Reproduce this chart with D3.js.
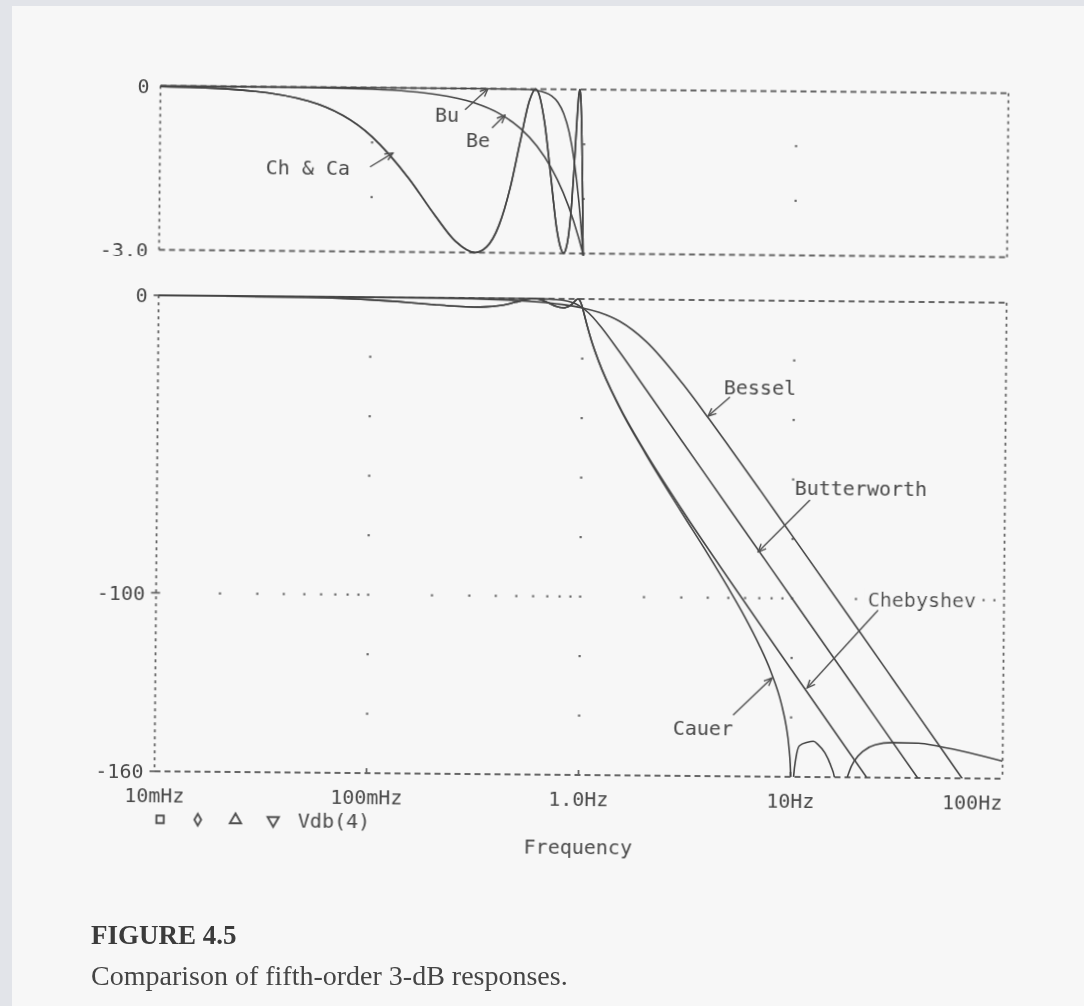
<!DOCTYPE html>
<html>
  <head>
    <meta charset="utf-8">
    <title>Comparison of fifth-order 3-dB responses</title>
    <script src="https://d3js.org/d3.v7.min.js"></script>
  </head>
  <body>
<style>
  body { margin: 0; background: #e2e4e9; }
  svg text { font-family: "DejaVu Sans Mono", monospace; fill: #4a4a4a; }
  .frame { fill: none; stroke: #666; stroke-width: 1.8; }
  .curve { fill: none; stroke: #454545; stroke-width: 1.6; }
  .note { fill: none; stroke: #505050; stroke-width: 1.4; }
  .dot { fill: #6a6a6a; }
</style>
<script type="text/javascript">

  // size of the page
  var w = 1084,
      h = 1006;

  // x ticks (Hz) and their labels
  var xTicks = [0.01, 0.1, 1, 10, 100];
  var xTickLabels = ["10mHz", "100mHz", "1.0Hz", "10Hz", "100Hz"];

  // y ticks of both panels (dB)
  var topTicks = [0, -3.0];
  var topTickLabels = ["0", "-3.0"];
  var botTicks = [0, -100, -160];
  var botTickLabels = ["0", "-100", "-160"];

  // grid dots
  var gridDecades = [0.1, 1, 10];
  var topGridDb = [-1, -2];
  var botGridDb = [-20, -40, -60, -80, -100, -120, -140];

  // curves: frequency (Hz) and gain (dB)
  var butterFreq = [0.01, 0.1, 0.3, 0.5, 0.6, 0.7, 0.75, 0.8, 0.85, 0.9, 0.95, 1.0, 1.05, 1.1, 1.2, 1.5, 2, 3, 5, 10, 20, 40, 100];
  var butterDb = [0, 0, 0, -0.004, -0.026, -0.121, -0.238, -0.443, -0.781, -1.300, -2.037, -3.010, -4.198, -5.556, -8.568, -17.68, -30.10, -47.71, -69.90, -100.0, -130.1, -160.2, -200];

  var besselFreq = [0.01, 0.05, 0.1, 0.2, 0.3, 0.4, 0.5, 0.6, 0.7, 0.8, 0.9, 1.0, 1.2, 1.5, 2, 3, 4, 5, 7, 10, 20, 30, 50, 70, 100];
  var besselDb = [-0.0003, -0.007, -0.028, -0.114, -0.257, -0.459, -0.720, -1.042, -1.429, -1.882, -2.408, -3.010, -4.475, -7.413, -14.06, -28.34, -40.02, -49.39, -63.75, -79.12, -109.1, -126.7, -148.9, -163.5, -178];

  var chebFreq = [0.01, 0.02, 0.05, 0.1, 0.15, 0.2, 0.25, 0.309, 0.35, 0.4, 0.45, 0.5, 0.55, 0.588, 0.6, 0.65, 0.7, 0.75, 0.78, 0.809, 0.83, 0.85, 0.88, 0.9, 0.92, 0.94, 0.951, 0.96, 0.97, 0.98, 0.99, 1.0, 1.02, 1.05, 1.1, 1.2, 1.5, 2, 3, 5, 10, 20, 25, 100];
  var chebDb = [-0.011, -0.043, -0.257, -0.898, -1.659, -2.332, -2.797, -3.000, -2.898, -2.499, -1.818, -0.964, -0.219, 0, -0.025, -0.599, -1.607, -2.559, -2.877, -3.000, -2.917, -2.711, -2.080, -1.454, -0.729, -0.122, 0, -0.098, -0.464, -1.103, -1.972, -3.000, -5.268, -8.639, -13.52, -21.04, -35.76, -51.15, -70.51, -93.52, -123.95, -154.14, -163.84, -224];

  var cauerFreq = [0.01, 0.02, 0.05, 0.1, 0.15, 0.2, 0.25, 0.309, 0.35, 0.4, 0.45, 0.5, 0.55, 0.588, 0.6, 0.65, 0.7, 0.75, 0.78, 0.809, 0.83, 0.85, 0.88, 0.9, 0.92, 0.94, 0.951, 0.96, 0.97, 0.98, 0.99, 1.0, 1.02, 1.05, 1.1, 1.2, 1.5, 2, 3, 4, 5, 6, 7, 8, 9, 9.5, 9.8, 10, 10.15, 10.3, 10.6, 11, 12, 12.8, 13.5, 14.5, 15.5, 16.2, 17.3, 18, 19, 20, 22, 25, 30, 40, 50, 70, 100];
  var cauerDb = [-0.011, -0.043, -0.257, -0.898, -1.659, -2.332, -2.797, -3.000, -2.898, -2.499, -1.818, -0.964, -0.219, 0, -0.025, -0.599, -1.607, -2.559, -2.877, -3.000, -2.917, -2.711, -2.080, -1.454, -0.729, -0.122, 0, -0.098, -0.464, -1.103, -1.972, -3.000, -5.3, -8.7, -13.6, -21.1, -36.0, -51.6, -71.6, -85.5, -96.7, -106.4, -115.5, -124.7, -135.5, -143.0, -149.8, -158.2, -200, -162, -153.5, -149.5, -148.3, -148.0, -149.2, -151.8, -156.2, -161, -200, -164.6, -157.7, -154.4, -151.1, -149.0, -148.2, -148.3, -149.3, -151.4, -154.1];

  var curves = [
    {name: "butter", freq: butterFreq, db: butterDb},
    {name: "bessel", freq: besselFreq, db: besselDb},
    {name: "cheb", freq: chebFreq, db: chebDb},
    {name: "cauer", freq: cauerFreq, db: cauerDb}
  ];

  // arrow notes: label point, arrow start and arrow tip in (Hz, dB)
  var topNotes = [
    {text: "Bu", at: [0.2253, -0.49], from: [0.2738, -0.39], to: [0.3506, 0]},
    {text: "Be", at: [0.3162, -0.94], from: [0.3678, -0.72], to: [0.4230, -0.48]},
    {text: "Ch & Ca", at: [0.0500, -1.48], from: [0.0981, -1.45], to: [0.1257, -1.19]}
  ];
  var botNotes = [
    {text: "Bessel", at: [6.92, -29.4], from: [5.0, -32.5], to: [3.95, -39.0]},
    {text: "Butterworth", at: [20.9, -62.7], from: [12.04, -66.9], to: [6.88, -84.5]},
    {text: "Chebyshev", at: [41.0, -100], from: [25.5, -103.7], to: [11.87, -130.1], boxed: true},
    {text: "Cauer", at: [3.85, -143.9], from: [5.33, -139.4], to: [8.11, -126.8]}
  ];

  var legendSymbols = [d3.symbolSquare, d3.symbolDiamond, d3.symbolTriangle, d3.symbolTriangle];
  var legendText = "Vdb(4)";

  // main svg canvas
  var svg = d3.select("body").append("svg")
      .attr("width", w)
      .attr("height", h);

  var defs = svg.append("defs");
  defs.append("filter").attr("id", "scan")
    .append("feGaussianBlur").attr("stdDeviation", 0.55);
  defs.append("marker")
      .attr("id", "arrow")
      .attr("markerUnits", "userSpaceOnUse")
      .attr("viewBox", "-1 -5 10 10")
      .attr("refX", 8).attr("refY", 0)
      .attr("markerWidth", 10).attr("markerHeight", 10)
      .attr("orient", "auto")
    .append("path")
      .attr("d", "M0,-3.5L8,0L0,3.5")
      .attr("fill", "none")
      .attr("stroke", "#505050")
      .attr("stroke-width", 1.4);

  // the page
  svg.append("rect")
      .attr("x", 12).attr("y", 6)
      .attr("width", w - 12).attr("height", h - 6)
      .attr("fill", "#f7f7f7");

  // scales, the scan is a bit rotated so the whole plot is turned afterwards
  var x = d3.scaleLog().domain([0.01, 100]).range([157.5, 1005.5]);
  var yTop = d3.scaleLinear().domain([-3, 0]).range([253.5, 89.5]);
  var yBot = d3.scaleLinear().domain([-160, 0]).range([775, 299]);

  var chart = svg.append("g")
      .attr("transform", "rotate(0.5 580 430)")
      .attr("filter", "url(#scan)");

  defs.append("clipPath").attr("id", "clipTop")
    .append("rect")
      .attr("x", x.range()[0]).attr("y", yTop(0) - 2)
      .attr("width", x.range()[1] - x.range()[0])
      .attr("height", yTop(-3) - yTop(0) + 4);
  defs.append("clipPath").attr("id", "clipBot")
    .append("rect")
      .attr("x", x.range()[0]).attr("y", yBot(0) - 2)
      .attr("width", x.range()[1] - x.range()[0])
      .attr("height", yBot(-160) - yBot(0) + 2);

  // dashed frame of a panel
  function frame(y) {
    var x0 = x.range()[0], x1 = x.range()[1],
        y0 = y.range()[1], y1 = y.range()[0];
    var g = chart.append("g").attr("class", "frame");
    [y0, y1].forEach(function(yy) {
      g.append("line").attr("x1", x0).attr("x2", x1).attr("y1", yy).attr("y2", yy)
        .attr("stroke-dasharray", "6,4");
    });
    [x0, x1].forEach(function(xx) {
      g.append("line").attr("x1", xx).attr("x2", xx).attr("y1", y0).attr("y2", y1)
        .attr("stroke-dasharray", "3,4");
    });
  }
  frame(yTop);
  frame(yBot);

  // grid dots
  var dots = [];
  gridDecades.forEach(function(f) {
    topGridDb.forEach(function(d) { dots.push([x(f), yTop(d)]); });
    botGridDb.forEach(function(d) { dots.push([x(f), yBot(d)]); });
  });
  // the -100 row carries the minor ticks
  [0.01, 0.1, 1, 10].forEach(function(dec) {
    d3.range(2, 10).forEach(function(m) { dots.push([x(dec * m), yBot(-100)]); });
  });
  chart.append("g").selectAll("rect")
      .data(dots)
    .enter()
      .append("rect")
      .attr("class", "dot")
      .attr("x", function(d) { return d[0] - 1; })
      .attr("y", function(d) { return d[1] - 1; })
      .attr("width", 2.2).attr("height", 2.2);

  // small ticks on the bottom axis
  chart.append("g").selectAll("line")
      .data(xTicks.slice(1, 4))
    .enter()
      .append("line")
      .attr("class", "frame")
      .attr("x1", function(d) { return x(d); })
      .attr("x2", function(d) { return x(d); })
      .attr("y1", yBot(-160))
      .attr("y2", yBot(-160) - 5);
  chart.append("g").selectAll("line")
      .data(botTicks)
    .enter()
      .append("line")
      .attr("class", "frame")
      .attr("x1", x.range()[0] - 5)
      .attr("x2", x.range()[0] + 4)
      .attr("y1", function(d) { return yBot(d); })
      .attr("y2", function(d) { return yBot(d); });

  // curves
  function drawCurves(y, clip) {
    var line = d3.line()
        .x(function(d) { return x(d[0]); })
        .y(function(d) { return y(d[1]); })
        .curve(d3.curveMonotoneX);
    chart.append("g")
        .attr("clip-path", "url(#" + clip + ")")
        .selectAll("path")
        .data(curves)
      .enter()
        .append("path")
        .attr("class", "curve")
        .attr("d", function(c) { return line(c.freq.map(function(f, i) { return [f, c.db[i]]; })); });
  }
  drawCurves(yTop, "clipTop");
  drawCurves(yBot, "clipBot");

  // tick labels
  var fs = 20;
  function yLabels(y, ticks, labels) {
    chart.append("g").selectAll("text")
        .data(ticks)
      .enter()
        .append("text")
        .attr("x", x.range()[0] - 11)
        .attr("y", function(d) { return y(d); })
        .attr("text-anchor", "end")
        .attr("dominant-baseline", "central")
        .style("font-size", fs + "px")
        .text(function(d, i) { return labels[i]; });
  }
  yLabels(yTop, topTicks, topTickLabels);
  yLabels(yBot, botTicks, botTickLabels);

  chart.append("g").selectAll("text")
      .data(xTicks)
    .enter()
      .append("text")
      .attr("x", function(d) { return x(d); })
      .attr("y", yBot(-160) + 24)
      .attr("text-anchor", function(d, i) { return i == xTicks.length - 1 ? "end" : "middle"; })
      .attr("dominant-baseline", "central")
      .style("font-size", fs + "px")
      .text(function(d, i) { return xTickLabels[i]; });

  chart.append("text")
      .attr("x", x(1))
      .attr("y", yBot(-160) + 72)
      .attr("text-anchor", "middle")
      .attr("dominant-baseline", "central")
      .style("font-size", fs + "px")
      .text("Frequency");

  // legend
  var legend = chart.append("g")
      .attr("transform", "translate(" + (x.range()[0] + 6) + "," + (yBot(-160) + 48) + ")");
  legend.selectAll("path")
      .data(legendSymbols)
    .enter()
      .append("path")
      .attr("transform", function(d, i) { return "translate(" + (i * 37.7) + ",0)" + (i == 3 ? " rotate(180)" : ""); })
      .attr("d", function(d) { return d3.symbol().type(d).size(d == d3.symbolDiamond ? 40 : 55)(); })
      .attr("fill", "none")
      .attr("stroke", "#505050")
      .attr("stroke-width", 1.9);
  legend.append("text")
      .attr("x", 4 * 37.7 - 13)
      .attr("y", 0)
      .attr("dominant-baseline", "central")
      .style("font-size", fs + "px")
      .text(legendText);

  // arrow notes
  function notes(list, y) {
    var g = chart.append("g");
    list.forEach(function(n) {
      var t = g.append("text")
          .attr("x", x(n.at[0]))
          .attr("y", y(n.at[1]))
          .attr("text-anchor", "middle")
          .attr("dominant-baseline", "central")
          .style("font-size", fs + "px")
          .text(n.text);
      if (n.boxed) {
        var b = t.node().getBBox();
        g.insert("rect", "text")
            .attr("x", b.x - 4).attr("y", b.y)
            .attr("width", b.width + 8).attr("height", b.height)
            .attr("fill", "#f7f7f7");
      }
      g.append("line")
          .attr("class", "note")
          .attr("x1", x(n.from[0])).attr("y1", y(n.from[1]))
          .attr("x2", x(n.to[0])).attr("y2", y(n.to[1]))
          .attr("marker-end", "url(#arrow)");
    });
  }
  notes(topNotes, yTop);
  notes(botNotes, yBot);

  // caption
  var cap = svg.append("g").attr("filter", "url(#scan)");
  cap.append("text")
      .attr("x", 91).attr("y", 944)
      .style("font-family", "'Liberation Serif', 'Times New Roman', serif")
      .style("font-weight", "bold")
      .style("font-size", "27px")
      .style("fill", "#3a3a3a")
      .text("FIGURE 4.5");
  cap.append("text")
      .attr("x", 91).attr("y", 985)
      .style("font-family", "'Liberation Serif', 'Times New Roman', serif")
      .style("font-size", "28px")
      .style("fill", "#444")
      .text("Comparison of fifth-order 3-dB responses.");

</script>
  </body>
</html>
